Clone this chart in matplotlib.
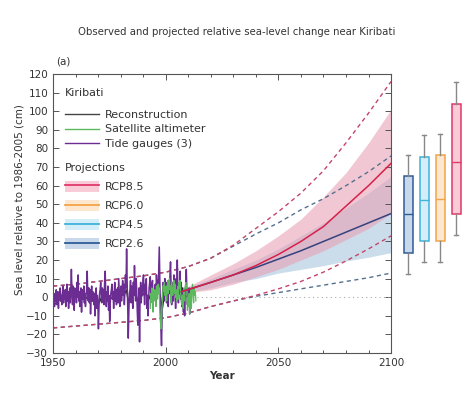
import numpy as np
import matplotlib
matplotlib.use("Agg")
import matplotlib.pyplot as plt
from matplotlib.lines import Line2D
from matplotlib.patches import Patch

# ---- data ----
# tide gauge, 4 values per year from 1950
tide = [
    -3, 2, -5, 1,  -2, 4, -4, 0,  3, -6, 2, -1,  5, -2, 1, -4,  2, 6, -3, 3,
    -1, 4, -5, 2,  7, -2, 3, -6,  1, 5, -3, 4,  15, 2, -4, 6,  3, -7, 5, 1,
    4, -3, 8, 0,  12, -2, 3, -5,  2, 5, -8, 1,  4, -1, 6, -3,  2, -5, 1, 4,
    14, 3, -2, 5,  -3, 4, -9, 1,  6, -2, 3, 0,  -4, 2, -10, 3,  5, -6, 1, -3,
    -17, -5, 2, 4,  8, 1, -3, 5,  0, 4, -4, 9,  14, 2, -5, 3,  -2, 6, -7, 1,
    -13, -3, 2, 4,  7, -1, 3, -6,  2, 8, -2, 4,  -4, 1, 5, -3,  10, 3, -5, 2,
    6, -2, 4, 9,  1, 7, -4, 3,  12, 5, 26, 8,  -5, -22, -8, 2,  4, 9, -3, 6,
    2, -6, 8, 1,  17, 4, -2, 10,  3, -8, -15, -4,  5, -24, 2, 8,  -3, 6, 1, 9,
    12, 3, -4, 7,  2, 10, -6, 1,  -10, -3, 5, 8,  11, 2, -2, 6,  9, -5, 3, 0,
    4, 7, -3, 12,  5, 9, 2, 14,  27, 10, -8, -18,  -26, -12, 3, 8,  6, -2, 10, 4,
    8, -3, 6, 1,  -5, 9, 3, 12,  19, 6, -4, 3,  8, -2, 12, 2,  5, -6, 10, 3,
    20, 4, -3, 6,  2, 14, -1, 8,  -5, 3, 1, -8,  4, -10, 2, 7,  15, 3, -4, 1,
    -3, 5, -9, 2,
]
# satellite altimeter, 4 values per year from 1993
altimeter = [
    -6, 2, -3, 5,  0, -8, 3, -2,  4, 1, -5, 6,  3, -1, 7, 2,  5, -6, -12, -17,
    -15, -5, 2, 6,  3, 8, 1, 5,  6, -2, 4, 9,  2, 7, 10, 4,  6, -3, 8, 3,
    1, 5, 9, 2,  7, 0, 4, -2,  3, 6, -1, 8,  5, 9, 2, -2,  -4, 1, -6, 3,
    5, -2, 4, 8,  6, 3, -7, 0,  -5, 2, -9, 1,  4, -6, 3, 7,  2, -3, 5, 1,
    3, -2,
]
# reconstruction, yearly from 1950
recon = [-4, -3, -1, -2, 0, -1, 1, 2, 0, 1, 2, 0, -1, 1, 0, -1, 0, -2, -3, -1,
         -3, 0, 1, 0, -2, -1, 0, 1, 0, 1, 2, 1, 4, -3, 2, 1, 3, -2, -1, 1,
         2, 1, -1, 2, 1, 2, 3, 1, -6, 2, 1, 2, 3, 2, 3, 4, 2, 5, 1, 0, -2]

# envelope (dashed) lines
env_years = [1950, 1960, 1970, 1980, 1990, 2000, 2010, 2020, 2030, 2040,
             2050, 2060, 2070, 2080, 2090, 2100]
rcp85_hi = [6, 7, 8.5, 10, 11.5, 13.5, 16.5, 21, 28, 37, 46, 56, 68, 83, 99, 116]
rcp85_lo = [-16.5, -15.5, -14.5, -13.5, -12.5, -11, -8.5, -5, -2, 1, 4.5, 8.5,
            13.5, 19.5, 26, 33]
rcp26_hi = [6, 7, 8.5, 10, 11.5, 13.5, 16.5, 21, 27.5, 34, 40, 47, 53, 60, 67.5, 76]
rcp26_lo = [-16.5, -15.5, -14.5, -13.5, -12.5, -11, -8.5, -5, -2, 0.5, 2.5, 4.5,
            6.5, 8.5, 10.5, 13]

# projections (median and likely range)
proj_years = [2007, 2020, 2030, 2040, 2050, 2060, 2070, 2080, 2090, 2100]
rcp85_med = [3, 8, 12, 17, 23, 30, 38, 49, 60, 72]
rcp85_top = [4, 12, 18, 25, 33, 42, 54, 67, 83, 101]
rcp85_bot = [2, 4, 7, 11, 15, 20, 25, 31, 37, 45]
rcp26_med = [3, 8, 12, 16, 20.5, 25, 30, 35, 40, 45]
rcp26_top = [4, 10, 15, 20, 26, 33, 40, 48, 56, 65]
rcp26_bot = [2, 5, 8, 10, 13, 15, 17, 19.5, 21.5, 24]

# 2100 box plots: whisker low, box low, median, box high, whisker high
scenarios = ["RCP2.6", "RCP4.5", "RCP6.0", "RCP8.5"]
box_stats = [
    [12.7, 24, 44.5, 65, 76.7],
    [19, 30.3, 52.3, 75.4, 87],
    [19, 30, 52.7, 76.5, 88],
    [33.5, 44.8, 72.7, 104, 115.6],
]
edge_cols = ["#2f5c99", "#3fb3dc", "#f2a446", "#e0386a"]
fill_cols = ["#c9d8ea", "#d3eef9", "#fde7cf", "#f8cbd6"]

txt = "#333333"
plt.rcParams["font.family"] = ["DejaVu Sans"]

fig = plt.figure(figsize=(4.74, 3.94), dpi=100)
ax = fig.add_axes([0.112, 0.104, 0.713, 0.708])

t_tide = 1950 + np.arange(len(tide)) / 4 + 0.125
t_alt = 1993 + np.arange(len(altimeter)) / 4 + 0.125
t_rec = 1950 + np.arange(len(recon)) + 0.5

# shaded ranges
ax.fill_between(proj_years, rcp26_bot, rcp26_top, color="#a9c6df", alpha=0.6, lw=0)
ax.fill_between(proj_years, rcp85_bot, rcp85_top, color="#e8a0b4", alpha=0.58, lw=0)

ax.plot([2010, 2100], [0, 0], ls=(0, (1, 3)), color="#aaaaaa", lw=0.8)

dash = (0, (3, 2.5))
ax.plot(env_years, rcp26_hi, ls=dash, color="#55708f", lw=1)
ax.plot(env_years, rcp26_lo, ls=dash, color="#55708f", lw=1)
ax.plot(env_years, rcp85_hi, ls=dash, color="#c4456a", lw=1)
ax.plot(env_years, rcp85_lo, ls=dash, color="#c4456a", lw=1)

ax.plot(t_rec, recon, color="#222222", lw=1)
ax.plot(t_tide, tide, color="#6b2d92", lw=1.1)
ax.plot(t_alt, altimeter, color="#5cb85c", lw=0.9)

ax.plot(proj_years, rcp26_med, color="#34427e", lw=1.1)
ax.plot(proj_years, rcp85_med, color="#d8204a", lw=1.1)

ax.set_xlim(1950, 2100)
ax.set_ylim(-30, 120)
ax.set_xticks([1950, 2000, 2050, 2100])
ax.set_xticks(np.arange(1950, 2101, 10), minor=True)
ax.set_yticks(np.arange(-30, 121, 10))
ax.tick_params(which="both", direction="in", top=True, right=True,
               labelsize=7.5, colors="#555555", labelcolor=txt, width=0.7)
ax.tick_params(which="major", length=4)
ax.tick_params(which="minor", length=2.5)
for s in ax.spines.values():
    s.set_color("#555555")
    s.set_linewidth(0.8)

ax.set_xlabel("Year", fontsize=7.5, color=txt, fontweight="bold")
ax.set_ylabel("Sea level relative to 1986-2005 (cm)", fontsize=7.5, color=txt)
ax.yaxis.set_label_coords(-0.085, 0.55)
ax.xaxis.set_label_coords(0.5, -0.065)

# legends (group titles drawn as text)
ax.text(0.036, 0.932, "Kiribati", transform=ax.transAxes, ha="left",
        va="center", fontsize=8, color=txt)
ax.text(0.036, 0.665, "Projections", transform=ax.transAxes, ha="left",
        va="center", fontsize=8, color=txt)

obs_handles = [Line2D([], [], color="#444444", lw=1),
               Line2D([], [], color="#5cb85c", lw=1),
               Line2D([], [], color="#6b2d92", lw=1)]
leg1 = ax.legend(obs_handles, ["Reconstruction", "Satellite altimeter", "Tide gauges (3)"],
                 loc="upper left", bbox_to_anchor=(0.036, 0.872),
                 frameon=False, fontsize=8, handlelength=3.0,
                 handletextpad=0.55, labelspacing=0.42, borderpad=0, borderaxespad=0)
for t in leg1.get_texts():
    t.set_color(txt)
ax.add_artist(leg1)

proj_handles = []
for name in ["RCP8.5", "RCP6.0", "RCP4.5", "RCP2.6"]:
    i = scenarios.index(name)
    proj_handles.append((Patch(facecolor=fill_cols[i], edgecolor="none"),
                         Line2D([], [], color=edge_cols[i], lw=1.3)))
leg2 = ax.legend(proj_handles, ["RCP8.5", "RCP6.0", "RCP4.5", "RCP2.6"],
                 loc="upper left", bbox_to_anchor=(0.036, 0.617),
                 frameon=False, fontsize=8, handlelength=3.0,
                 handleheight=1.1, handletextpad=0.55, labelspacing=0.72,
                 borderpad=0, borderaxespad=0)
for t in leg2.get_texts():
    t.set_color(txt)

# box plots for 2100
bx = fig.add_axes([0.827, 0.104, 0.169, 0.708])
bx.set_ylim(-30, 120)
bx.set_xlim(0, 5)
stats = []
for lab, s in zip(scenarios, box_stats):
    stats.append({"label": lab, "whislo": s[0], "q1": s[1], "med": s[2],
                  "q3": s[3], "whishi": s[4]})
bp = bx.bxp(stats, positions=[1, 2, 3, 4], widths=0.56, patch_artist=True,
            showfliers=False)
for i in range(4):
    bp["boxes"][i].set_facecolor(fill_cols[i])
    bp["boxes"][i].set_edgecolor(edge_cols[i])
    bp["boxes"][i].set_linewidth(1.1)
    bp["medians"][i].set_color(edge_cols[i])
    bp["medians"][i].set_linewidth(1)
for w in bp["whiskers"] + bp["caps"]:
    w.set_color("#888888")
    w.set_linewidth(1)
bx.axis("off")

fig.text(0.5, 0.918, "Observed and projected relative sea-level change near Kiribati",
         ha="center", va="center", fontsize=7.3, color=txt)
fig.text(0.118, 0.843, "(a)", ha="left", va="center", fontsize=7.5, color=txt)

fig.savefig("out.png", dpi=100)
